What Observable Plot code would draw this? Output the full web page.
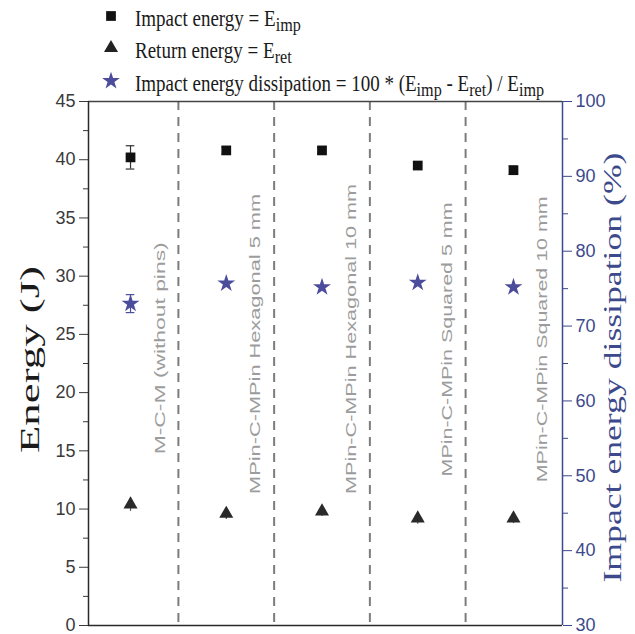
<!DOCTYPE html>
<html>
<head>
<meta charset="utf-8">
<script src="https://cdn.jsdelivr.net/npm/d3@7"></script>
<script src="https://cdn.jsdelivr.net/npm/@observablehq/plot@0.6"></script>
<style>
  body { margin: 0; background: #fff; }
  #wrap { width: 635px; height: 634px; position: relative; overflow: hidden; background: #fff; }
  #legend { position: relative; height: 94px; font-family: "Liberation Serif", serif; font-size: 19px; color: #1a1a1a; }
  .sym { position: absolute; left: 101px; width: 20px; height: 20px; }
  .txt { position: absolute; left: 135px; white-space: nowrap; line-height: 19px; transform: scaleY(1.2); transform-origin: 0 100%; }
  .txt sub { font-size: 85%; vertical-align: -4px; line-height: 0; }
  svg { overflow: visible; }
</style>
</head>
<body>
<div id="wrap">
  <div id="legend"></div>
  <div id="chart"></div>
</div>
<script>
// ---- data ----
const categories = [
  "M-C-M (without pins)",
  "MPin-C-MPin Hexagonal 5 mm",
  "MPin-C-MPin Hexagonal 10 mm",
  "MPin-C-MPin Squared 5 mm",
  "MPin-C-MPin Squared 10 mm"
];
const impactEnergy = [40.2, 40.8, 40.8, 39.5, 39.1];      // J
const impactErr    = [1.0, 0.3, 0.25, 0.3, 0.35];
const returnEnergy = [10.4, 9.6, 9.8, 9.2, 9.2];          // J
const returnErr    = [0.6, 0.5, 0.45, 0.5, 0.45];
const dissipation  = [73.0, 75.7, 75.2, 75.8, 75.2];      // %
const dissipationErr = [1.2, 0.3, 0.3, 0.3, 0.3];
const labelStart   = [14.7, 11.3, 11.3, 12.8, 12.3];      // energy level where each rotated label begins
const energyTicks  = [0, 5, 10, 15, 20, 25, 30, 35, 40, 45];
const energyMinor  = [2.5, 7.5, 12.5, 17.5, 22.5, 27.5, 32.5, 37.5, 42.5];
const dissTicks    = [30, 40, 50, 60, 70, 80, 90, 100];
const dissMinor    = [35, 45, 55, 65, 75, 85, 95];
const legendItems = [
  {symbol: "square",   color: "#111",    html: "Impact energy = E<sub>imp</sub>"},
  {symbol: "triangle", color: "#222",    html: "Return energy = E<sub>ret</sub>"},
  {symbol: "star",     color: "#4b4c9c", html: "Impact energy dissipation = 100 * (E<sub>imp</sub> - E<sub>ret</sub>) / E<sub>imp</sub>"}
];

// ---- styles ----
const BLUE = "#3c4a8c";
const STAR = "#4b4c9c";
const E_MAX = 45, D_MIN = 30, D_MAX = 100;
const toE = d => (d - D_MIN) / (D_MAX - D_MIN) * E_MAX;
const fromE = e => D_MIN + e / E_MAX * (D_MAX - D_MIN);

const rows = categories.map((c, i) => ({
  pos: i + 1, cat: c,
  imp: impactEnergy[i], impErr: impactErr[i],
  ret: returnEnergy[i], retErr: returnErr[i],
  dis: toE(dissipation[i]),
  dis1: toE(dissipation[i] - dissipationErr[i]),
  dis2: toE(dissipation[i] + dissipationErr[i]),
  lab: labelStart[i]
}));
const seps = rows.slice(1).map(r => r.pos - 0.5);
const cap = 0.045;

// ---- legend ----
const symMap = {square: d3.symbolSquare, triangle: d3.symbolTriangle, star: d3.symbolStar};
const symR = {square: 5.5, triangle: 5.2, star: 5.6};
const rowY = [16, 48, 81];
const legend = d3.select("#legend");
legendItems.forEach((it, i) => {
  const s = legend.append("svg").attr("class", "sym").style("top", (rowY[i] - 10) + "px")
    .attr("viewBox", "-10 -10 20 20");
  s.append("path").attr("d", d3.symbol(symMap[it.symbol], Math.PI * symR[it.symbol] ** 2)()).attr("fill", it.color);
  legend.append("div").attr("class", "txt").style("top", (rowY[i] - 5) + "px").html(it.html);
});

// ---- chart ----
const titleLeftLen = 187, titleRightLen = 430;
const chart = Plot.plot({
  width: 635,
  height: 540,
  marginLeft: 88,
  marginRight: 73,
  marginTop: 7,
  marginBottom: 9,
  style: {background: "transparent", overflow: "visible"},
  x: {type: "linear", domain: [0.561, 5.512], axis: null},
  y: {domain: [0, E_MAX], axis: null},
  marks: [
    Plot.ruleX(seps, {stroke: "#7c7c7c", strokeWidth: 2, strokeDasharray: "9,7"}),
    // left axis
    Plot.axisY({ticks: energyTicks, tickSize: 9, tickPadding: 4, fontSize: 18, fontFamily: "Liberation Sans, Arial, sans-serif", color: "#3a3a3a", label: null}),
    Plot.axisY({ticks: energyMinor, tickSize: 5, tickFormat: () => "", color: "#3a3a3a", label: null}),
    // right axis (dissipation %)
    Plot.axisY({anchor: "right", ticks: dissTicks.map(toE), tickFormat: e => Math.round(fromE(e)), tickSize: 9, tickPadding: 4, fontSize: 18, fontFamily: "Liberation Sans, Arial, sans-serif", color: BLUE, label: null}),
    Plot.axisY({anchor: "right", ticks: dissMinor.map(toE), tickSize: 5, tickFormat: () => "", color: BLUE, label: null}),
    // frame
    Plot.ruleY([0], {stroke: "#2a2a2a", strokeWidth: 1.5}),
    Plot.ruleY([E_MAX], {stroke: "#444", strokeWidth: 1.5}),
    Plot.ruleX([0.561], {stroke: "#2a2a2a", strokeWidth: 1.5}),
    Plot.ruleX([5.512], {stroke: BLUE, strokeWidth: 1.5}),
    // category labels
    Plot.text(rows, {x: "pos", y: "lab", text: "cat", rotate: -90, textAnchor: "start", lineAnchor: "bottom", dx: 34,
      fontSize: 15, fontFamily: "Liberation Sans, Arial, sans-serif", fill: "#9c9c9c"}),
    // impact energy
    Plot.ruleX(rows, {x: "pos", y1: d => d.imp - d.impErr, y2: d => d.imp + d.impErr, stroke: "#333", strokeWidth: 1.2}),
    Plot.ruleY(rows, {y: d => d.imp - d.impErr, x1: d => d.pos - cap, x2: d => d.pos + cap, stroke: "#333", strokeWidth: 1.2}),
    Plot.ruleY(rows, {y: d => d.imp + d.impErr, x1: d => d.pos - cap, x2: d => d.pos + cap, stroke: "#333", strokeWidth: 1.2}),
    Plot.dot(rows, {x: "pos", y: "imp", symbol: "square", r: 5.5, fill: "#111", stroke: null}),
    // return energy
    Plot.ruleX(rows, {x: "pos", y1: d => d.ret - d.retErr, y2: d => d.ret + d.retErr, stroke: "#555", strokeWidth: 1.2}),
    Plot.dot(rows, {x: "pos", y: "ret", symbol: "triangle", r: 5.2, fill: "#2a2a2a", stroke: null}),
    // dissipation
    Plot.ruleX(rows, {x: "pos", y1: "dis1", y2: "dis2", stroke: STAR, strokeWidth: 1.2}),
    Plot.ruleY(rows.slice(0, 1), {y: "dis1", x1: d => d.pos - cap, x2: d => d.pos + cap, stroke: STAR, strokeWidth: 1.2}),
    Plot.ruleY(rows.slice(0, 1), {y: "dis2", x1: d => d.pos - cap, x2: d => d.pos + cap, stroke: STAR, strokeWidth: 1.2}),
    Plot.dot(rows, {x: "pos", y: "dis", symbol: "star", r: 5.6, fill: STAR, stroke: null}),
    // axis titles (start-anchored so the stretched length grows from a known end)
    Plot.text(["Energy (J)"], {frameAnchor: "left", dx: -58, dy: -4 + titleLeftLen / 2, rotate: -90, textAnchor: "start",
      fontSize: 27, fontFamily: "Liberation Serif, serif", fill: "#1a1a1a"}),
    Plot.text(["Impact energy dissipation (%)"], {frameAnchor: "right", dx: 50, dy: 4 + titleRightLen / 2, rotate: -90, textAnchor: "start",
      fontSize: 26, fontFamily: "Liberation Serif, serif", fill: BLUE})
  ]
});
document.getElementById("chart").appendChild(chart);

// stretch rotated texts along their reading direction, as in the reference
const lengths = new Map([
  ["M-C-M (without pins)", 212],
  ["MPin-C-MPin Hexagonal 5 mm", 300],
  ["MPin-C-MPin Hexagonal 10 mm", 310],
  ["MPin-C-MPin Squared 5 mm", 274],
  ["MPin-C-MPin Squared 10 mm", 286],
  ["Energy (J)", titleLeftLen],
  ["Impact energy dissipation (%)", titleRightLen]
]);
d3.select(chart).selectAll("text").each(function () {
  const t = this.textContent;
  if (lengths.has(t)) {
    this.setAttribute("textLength", lengths.get(t));
    this.setAttribute("lengthAdjust", "spacingAndGlyphs");
  }
});
</script>
</body>
</html>
